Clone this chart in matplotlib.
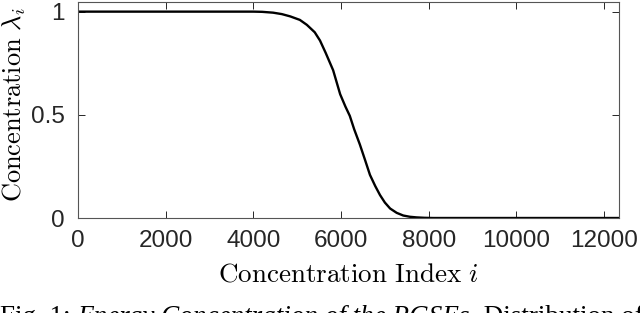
import matplotlib
matplotlib.use('Agg')
import matplotlib.pyplot as plt

# concentration curve
conc_index = [0, 4000, 4200, 4450, 4650, 4840, 5060, 5220, 5400, 5520, 5650, 5820,
              5980, 6100, 6200, 6300, 6430, 6550, 6660, 6780, 6890, 7000, 7120, 7270,
              7420, 7570, 7720, 7900, 8100, 12340]
conc_value = [1, 1, 0.999, 0.995, 0.988, 0.977, 0.96, 0.936, 0.9, 0.86, 0.8, 0.716,
              0.60, 0.54, 0.495, 0.43, 0.356, 0.28, 0.209, 0.155, 0.111, 0.075, 0.046, 0.025,
              0.012, 0.006, 0.003, 0.001, 0, 0]
xticks = [0, 2000, 4000, 6000, 8000, 10000, 12000]
yticks = [0, 0.5, 1]
ytick_labels = ['0', '0.5', '1']

plt.rcParams['mathtext.fontset'] = 'cm'
plt.rcParams['font.family'] = 'Liberation Sans'

fig = plt.figure(figsize=(6.4, 3.13), dpi=100)
ax = fig.add_axes([0.122, 0.3035, 0.845, 0.689])

ax.plot(conc_index, conc_value, color='black', lw=1.7)
ax.set_xlim(0, 12340)
ax.set_ylim(0, 1.045)
ax.set_xticks(xticks)
ax.set_yticks(yticks)
ax.set_yticklabels(ytick_labels)
ax.tick_params(direction='in', length=5, width=0.7, top=True, right=True,
               labelsize=17.5, colors='#262626')
ax.tick_params(axis='x', pad=8.5)
ax.tick_params(axis='y', pad=9.5)
for s in ax.spines.values():
    s.set_color('#555555')
    s.set_linewidth(0.8)

ax.set_xlabel(r'$\mathrm{Concentration\ Index}\ i$', fontsize=19.5, va='top')
ax.xaxis.set_label_coords(0.5, -0.2)
ax.set_ylabel(r'$\mathrm{Concentration}\ \lambda_i$', fontsize=19)
ax.yaxis.set_label_coords(-0.093, 0.525)

# caption, partly cut by the bottom edge
fig.canvas.draw()
r = fig.canvas.get_renderer()
x = 0.0
ybase = 1 - 324 / 313
for txt, style in [('Fig. 1: ', 'normal'), ('Energy Concentration of the RGSEs.', 'italic'),
                   (' Distribution of', 'normal')]:
    t = fig.text(x, ybase, txt, fontsize=19.5, family='Liberation Serif', style=style,
                 va='baseline', ha='left')
    bb = t.get_window_extent(renderer=r)
    x += bb.width / fig.bbox.width

fig.savefig('out.png', dpi=100)
